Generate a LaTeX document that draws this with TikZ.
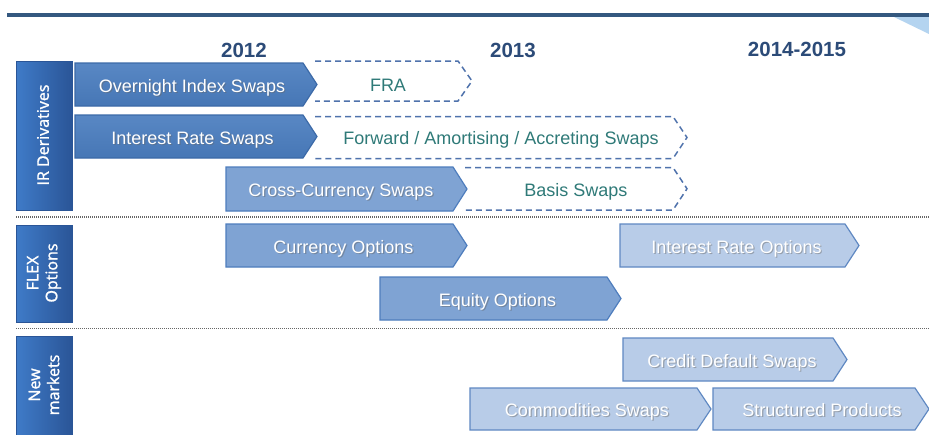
\documentclass[tikz,border=0pt]{standalone}
\usepackage{fontspec}
\setmainfont{Liberation Sans}
\newfontfamily\catfont[FakeBold=1.3]{Open Sans}

\definecolor{catL}{HTML}{3F7BC8}
\definecolor{catR}{HTML}{2A5597}
\definecolor{darkfill}{HTML}{4A7DBF}
\definecolor{darkedge}{HTML}{3C6AA8}
\definecolor{midfill}{HTML}{7FA3D3}
\definecolor{midedge}{HTML}{4E7DBD}
\definecolor{lightfill}{HTML}{B8CCE8}
\definecolor{lightedge}{HTML}{5F88C2}
\definecolor{yearblue}{HTML}{2C4B78}
\definecolor{planteal}{HTML}{2F7A78}
\definecolor{dashblue}{HTML}{4F72AC}
\definecolor{topline}{HTML}{34587F}
\definecolor{cornerblue}{HTML}{B4D4F0}

\tikzset{
  catbox/.style={left color=catL, right color=catR, draw=catR, line width=0.6pt},
  cattext/.style={text=white, font=\catfont\fontsize{16}{19}\selectfont, rotate=90, align=center, inner sep=0pt},
  yeartext/.style={text=yearblue, font=\bfseries\fontsize{20.5}{24}\selectfont, inner sep=0pt},
  bartext/.style={text=white, font=\fontsize{18}{21}\selectfont, inner sep=0pt, anchor=base},
  plantext/.style={text=planteal, font=\fontsize{18}{21}\selectfont, inner sep=0pt, anchor=base},
  planned/.style={draw=dashblue, line width=1.5pt, dash pattern=on 6pt off 4pt},
  divider/.style={draw=black!60, line width=1.3pt, dash pattern=on 1pt off 1pt},
  darkbar/.style={top color=darkfill!92!white, bottom color=darkfill!95!black, draw=darkedge, line width=1.2pt, line join=miter},
  darkbarsh/.style={text=black!60, opacity=0.45},
  midbar/.style={fill=midfill, draw=midedge, line width=1.2pt, line join=miter},
  midbarsh/.style={text=black!60, opacity=0.45},
  lightbar/.style={fill=lightfill, draw=lightedge, line width=1.2pt, line join=miter},
  lightbarsh/.style={text=black!55, opacity=0.5},
}

% #1 name, #2 left x, #3 body end x, #4 top y, #5 bottom y, #6 style, #7 text x, #8 label
\newcommand\tlbar[8]{%
  \path[#6] (#2,#4) -- (#3,#4) -- ({#3+14},{(#4+#5)/2}) -- (#3,#5) -- (#2,#5) -- cycle;
  \node[bartext,#6sh] (#1sh) at ({#7+1.2},{(#4+#5)/2+8.7}) {#8};
  \node[bartext] (#1) at (#7,{(#4+#5)/2+7.5}) {#8};
}

% #1 name, #2 left x, #3 body end x, #4 top y, #5 bottom y, #6 text x, #7 baseline y, #8 label
\newcommand\tlplan[8]{%
  \draw[planned] (#2,#4) -- (#3,#4) -- ({#3+14},{(#4+#5)/2}) -- (#3,#5) -- (#2,#5);
  \node[plantext] (#1) at (#6,#7) {#8};
}

\begin{document}
\begin{tikzpicture}[x=1pt,y=-1pt]
\useasboundingbox (0,0) rectangle (929,434);
\fill[white] (0,0) rectangle (929,434);

% header rule and corner accent
\fill[cornerblue] (893,16.5) -- (929,16.5) -- (929,34) -- cycle;
\draw[topline, line width=4pt] (7,14.5) -- (929,14.5);

% year headings
\node[yeartext] (y2012) at (244,50) {2012};
\node[yeartext] (y2013) at (513,50) {2013};
\node[yeartext] (y2014) at (797,49) {2014-2015};

% category boxes
\path[catbox] (16,61) rectangle (72,210);
\node[cattext] (irder) at (43,135) {IR Derivatives};
\path[catbox] (16,225) rectangle (72,322);
\node[cattext] (flex) at (44,273) {FLEX\\Options};
\path[catbox] (16,336) rectangle (72,437);
\node[cattext] (newmk) at (44,385) {New\\markets};

% section dividers
\draw[divider] (16,217) -- (929,217);
\draw[divider] (16,328.5) -- (929,328.5);

% IR derivatives
\tlplan{fra}{315}{458}{61}{101}{388}{91}{FRA}
\tlplan{fwd}{315}{673}{116.5}{158.5}{501}{144}{Forward / Amortising / Accreting Swaps}
\tlplan{basis}{465}{673}{167.5}{210}{576}{196}{Basis Swaps}
\tlbar{ois}{75}{303}{63}{106}{darkbar}{192}{Overnight Index Swaps}
\tlbar{irs}{75}{303}{115}{158}{darkbar}{192.5}{Interest Rate Swaps}
\tlbar{ccs}{226}{453}{167}{211}{midbar}{341}{Cross-Currency Swaps}

% FLEX options
\tlbar{curopt}{226}{453}{224}{267}{midbar}{343.5}{Currency Options}
\tlbar{eqopt}{380}{607}{277}{320}{midbar}{497.5}{Equity Options}
\tlbar{iropt}{620}{845}{224}{267}{lightbar}{736.5}{Interest Rate Options}

% new markets
\tlbar{cds}{623}{833}{338}{381}{lightbar}{732}{Credit Default Swaps}
\tlbar{comm}{470}{697}{388}{430}{lightbar}{587}{Commodities Swaps}
\tlbar{struct}{713}{915}{388}{430}{lightbar}{822}{Structured Products}
\end{tikzpicture}
\end{document}
